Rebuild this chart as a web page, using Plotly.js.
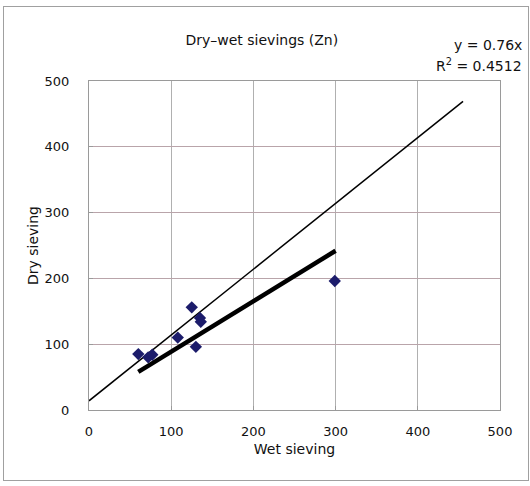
<!DOCTYPE html>
<html>
<head>
<meta charset="utf-8">
<script src="https://cdn.plot.ly/plotly-3.0.1.min.js"></script>
<style>
html,body{margin:0;padding:0;background:#fff;}
#wrap{position:relative;width:530px;height:486px;}
#chart{position:absolute;left:0;top:0;width:530px;height:486px;}
#frame{position:absolute;left:3px;top:6px;width:524px;height:473px;border:1px solid #a0a0a0;pointer-events:none;}
</style>
</head>
<body>
<div id="wrap"><div id="chart"></div><div id="frame"></div></div>
<script>
// Data
const wetSieving = [60, 72, 77, 108, 125, 135, 136, 130, 299];
const drySieving = [85, 80, 84, 110, 156, 140, 134, 96, 196];
// thin reference line (as drawn)
const refLineX = [0, 455];
const refLineY = [14, 469];
// thick trend line (as drawn)
const trendX = [60, 300];
const trendY = [58, 242];
const xTicks = [0, 100, 200, 300, 400, 500];
const yTicks = [0, 100, 200, 300, 400, 500];
const chartTitle = 'Dry\u2013wet sievings (Zn)';
const eqLine1 = 'y = 0.76x';
const eqLine2 = 'R<sup>2</sup> = 0.4512';

const fam = 'DejaVu Sans, Verdana, sans-serif';
const txt = {family: fam, size: 14, color: '#111'};
const tickTxt = {family: fam, size: 13, color: '#111'};

const traces = [
  {x: refLineX, y: refLineY, mode: 'lines', line: {color: '#000', width: 1.5}, hoverinfo: 'skip'},
  {x: trendX, y: trendY, mode: 'lines', line: {color: '#000', width: 4.5}, hoverinfo: 'skip'},
  {x: wetSieving, y: drySieving, mode: 'markers', marker: {symbol: 'diamond', size: 9.5, color: '#1c1c6b'}}
];

const layout = {
  width: 530, height: 486,
  margin: {l: 89, r: 30, t: 81, b: 76},
  paper_bgcolor: 'rgba(0,0,0,0)',
  plot_bgcolor: '#fff',
  showlegend: false,
  font: txt,
  title: {text: chartTitle, x: 0.494, xanchor: 'center', y: 0.918, yanchor: 'middle', font: txt},
  xaxis: {
    range: [0, 500], tickvals: xTicks, ticktext: xTicks.map(String),
    showgrid: true, gridcolor: '#b0b0b0', gridwidth: 1,
    zeroline: false, showline: true, linecolor: '#9a9a9a', mirror: true,
    ticks: 'inside', ticklen: 4, tickcolor: '#9a9a9a',
    ticklabelstandoff: 9,
    tickfont: tickTxt,
    title: {text: 'Wet sieving', standoff: 6, font: txt},
    fixedrange: true
  },
  yaxis: {
    range: [0, 500], tickvals: yTicks, ticktext: yTicks.map(String),
    showgrid: true, gridcolor: '#b9a4aa', gridwidth: 1,
    zeroline: false, showline: true, linecolor: '#9a9a9a', mirror: true,
    ticks: 'inside', ticklen: 4, tickcolor: '#9a9a9a',
    ticklabelstandoff: 16,
    tickfont: tickTxt,
    title: {text: 'Dry sieving', standoff: 2, font: txt},
    fixedrange: true
  },
  annotations: [
    {xref: 'paper', yref: 'paper', x: 1.058, y: 1.109, xanchor: 'right', yanchor: 'middle',
     text: eqLine1, showarrow: false, align: 'right', font: txt},
    {xref: 'paper', yref: 'paper', x: 1.058, y: 1.049, xanchor: 'right', yanchor: 'middle',
     text: eqLine2, showarrow: false, align: 'right', font: txt}
  ]
};

Plotly.newPlot('chart', traces, layout, {displayModeBar: false, staticPlot: true});
</script>
</body>
</html>
